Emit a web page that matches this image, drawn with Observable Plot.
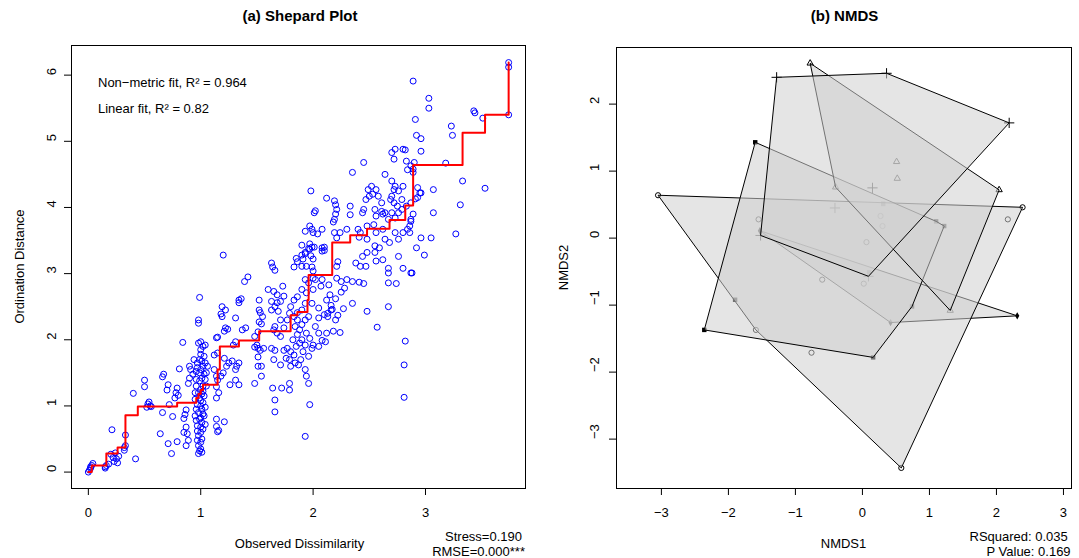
<!DOCTYPE html>
<html><head><meta charset="utf-8">
<script src="https://cdn.jsdelivr.net/npm/d3@7"></script>
<script src="https://cdn.jsdelivr.net/npm/@observablehq/plot@0.6"></script>
<style>
html,body{margin:0;padding:0;background:#fff;}
#wrap{position:relative;width:1079px;height:558px;overflow:hidden;background:#fff;}
#left,#right{position:absolute;top:0;}
#left{left:0;} #right{left:540px;}
svg{display:block;}
</style></head><body>
<div id="wrap"><div id="left"></div><div id="right"></div></div>
<script>
// ---------- Shepard plot data: [observed dissimilarity, ordination distance] ----------
const shepardPairs = [
[0.0,0.0],[0.01,0.03],[0.02,0.06],[0.03,0.1],[0.04,0.13],[0.02,0.08],
[0.15,0.06],[0.16,0.1],[0.18,0.12],[0.15,0.08],
[0.2,0.27],[0.22,0.22],[0.23,0.16],[0.25,0.2],[0.26,0.14],[0.24,0.29],[0.27,0.24],
[0.32,0.33],[0.33,0.4],[0.33,0.56],[0.32,0.37],[0.21,0.64],[0.42,0.2],
[0.4,1.19],[0.5,1.39],[0.5,1.29],[0.52,0.98],[0.53,1.03],[0.54,1.06],[0.55,1.0],[0.56,0.99],[0.64,0.58],[0.66,0.9],[0.66,1.44],[0.67,1.48],[0.7,1.24],[0.71,1.32],[0.74,0.28],[0.71,0.43],[0.75,0.84],[0.72,1.02],[0.77,1.12],[0.78,1.2],[0.8,1.16],[0.79,1.27],[0.81,1.56],[0.84,1.96],[0.87,0.4],[0.89,0.48],[0.88,0.58],[0.87,0.68],[0.85,0.6],[0.79,0.46],[0.85,0.81],[0.86,0.87],[0.87,0.94],[0.89,1.34],[0.9,1.42],[0.93,1.48],[0.91,1.55],[0.9,1.6],[0.94,1.7],
[0.95,1.1],[0.96,0.95],[0.95,0.85],[0.96,0.78],[0.97,0.7],[0.97,0.62],[0.98,0.55],[0.97,0.48],[0.98,0.4],[0.99,0.32],[0.98,0.28],[1.0,0.45],[1.01,0.5],[1.0,0.6],[1.0,0.68],[1.01,0.75],[1.0,0.82],[1.02,0.88],[1.01,0.95],[1.0,1.0],[1.02,1.05],[0.99,1.12],[1.01,1.18],[1.0,1.25],[1.02,1.3],[0.99,1.38],[1.01,1.42],[1.03,1.48],[1.0,1.55],[1.02,1.6],[1.04,1.65],[0.99,1.7],[1.03,1.75],[1.0,1.85],[1.02,1.9],[0.98,1.95],[1.04,1.92],[0.98,2.25],[0.98,2.3],[0.99,2.64],[1.04,1.4],[1.05,1.5],[1.03,1.15],[1.04,0.98],[1.03,0.85],[1.04,0.72],[1.02,0.65],[1.05,1.3],[0.97,1.02],[0.98,1.2],[0.96,1.3],[1.06,1.6],[0.97,1.58],[0.96,1.52],[0.97,1.65],[0.95,1.2],[0.96,1.4],[0.98,0.9],[1.0,0.35],[1.01,0.3],[0.99,0.8],[1.0,1.08],[1.02,1.22],[0.99,1.5],[1.01,1.68],[1.0,1.78],[1.0,1.97],
[1.12,1.77],[1.15,1.8],[1.14,2.03],[1.15,2.04],[1.18,2.39],[1.19,2.5],[1.22,2.45],[1.19,2.35],[1.21,2.13],[1.24,2.16],[1.22,2.18],[1.12,1.55],[1.14,1.45],[1.15,1.39],[1.18,1.45],[1.2,1.5],[1.14,1.29],[1.16,1.2],[1.14,1.12],[1.21,1.72],[1.25,1.65],[1.23,1.6],[1.28,1.68],[1.26,1.32],[1.31,1.39],[1.34,1.32],[1.31,1.55],[1.32,1.6],[1.34,1.65],[1.29,1.92],[1.31,1.97],[1.31,2.33],[1.34,2.6],[1.36,2.62],[1.39,2.88],[1.42,2.95],[1.34,2.56],[1.37,2.15],[1.4,2.18],[1.2,3.28],[1.21,0.76],[1.15,0.61],[1.14,0.69],[1.14,0.8],[1.16,0.63],[1.48,1.34],[1.54,1.45],[1.51,1.6],[1.54,1.6],
[1.52,2.6],[1.52,2.45],[1.53,2.41],[1.55,2.35],[1.52,2.27],[1.54,2.24],[1.51,2.12],[1.48,2.05],[1.5,1.92],[1.51,1.87],[1.48,1.89],[1.53,1.84],[1.56,1.87],[1.51,1.74],
[1.6,2.76],[1.65,2.73],[1.68,2.68],[1.63,2.58],[1.68,2.56],[1.71,2.58],[1.63,2.45],[1.66,2.5],[1.69,2.43],[1.74,2.66],[1.73,2.81],
[1.65,2.15],[1.66,2.2],[1.68,2.1],[1.71,2.05],[1.74,2.18],[1.77,2.3],[1.71,2.3],
[1.63,1.87],[1.66,1.84],[1.65,1.7],[1.71,1.62],[1.74,1.84],[1.77,1.87],[1.8,1.82],[1.76,1.72],[1.79,1.7],[1.83,1.77],
[1.86,2.41],[1.86,2.3],[1.9,2.23],[1.93,2.3],[1.96,2.35],[1.9,2.45],[1.93,2.55],
[1.9,2.76],[1.93,2.91],[1.96,2.86],[1.94,2.71],[2.0,2.76],[2.02,2.91],[2.07,2.81],[1.99,2.55],
[1.86,2.08],[1.9,2.0],[1.93,1.92],[1.91,1.82],[1.96,1.75],[1.99,1.87],[2.0,1.92],[1.97,2.02],[1.94,2.1],
[2.05,2.33],[2.1,2.38],[2.13,2.4],[2.17,2.46],[2.16,2.52],[2.05,2.48],
[2.0,2.93],[2.08,2.91],[2.14,2.83],[2.21,2.93],[2.25,2.88],[2.3,2.91],[2.35,2.88],[2.41,2.87],[2.45,2.85],
[1.8,1.6],[1.84,1.65],[1.87,1.62],[1.89,1.7],[1.85,1.9],[1.88,1.95],[1.82,2.0],[1.84,2.2],[1.88,2.15],[1.83,2.35],[1.8,2.5],[1.83,2.6],[1.86,2.65],[1.79,2.4],
[2.02,2.2],[2.05,2.1],[2.2,2.3],[2.22,2.37],[2.27,2.47],[2.12,2.6],[2.15,2.68],[2.2,2.62],[2.25,2.72],[2.28,2.78],[2.12,2.1],[2.05,1.9],
[2.82,1.98],[2.81,1.62],[2.81,1.13],[2.57,2.19],[2.67,2.5],[2.48,2.43],[2.35,2.55],[2.67,2.86],[2.74,2.85],[2.67,3.01],[2.24,2.11],[2.18,2.13],[2.11,1.97],[2.08,1.99],[2.13,2.35],[2.16,2.45],
[1.93,0.54],[1.97,1.02],[1.66,0.91],[1.66,1.09],[1.64,1.27],[1.72,1.27],[1.79,1.34],[1.79,1.24],[1.96,1.34],[1.94,1.45],[1.93,1.55],
[1.98,4.25],[2.12,4.14],[2.19,4.1],[2.2,4.04],[2.21,3.97],[2.2,3.9],[2.19,3.82],[2.18,3.78],[2.33,4.02],[2.33,3.89],[2.01,3.92],[2.02,3.95],[2.35,4.53],[2.45,4.68],[2.3,3.67],[2.4,3.67],[2.41,3.55],[2.42,3.62],[1.97,3.72],[1.99,3.67],[2.0,3.62],[1.93,3.64],[1.9,3.43],[1.93,3.32],[1.97,3.37],[1.98,3.27],[2.0,3.22],[1.91,3.22],[1.94,3.11],[1.9,3.11],[2.08,3.67],[2.08,3.39],[2.08,3.34],[2.19,3.62],[2.24,3.62],[2.21,3.54],[2.22,3.18],[2.21,3.11],
[2.49,4.27],[2.52,4.32],[2.5,4.17],[2.56,4.27],[2.58,4.17],[2.61,4.07],[2.53,4.2],[2.45,3.97],[2.44,3.92],[2.47,4.12],[2.55,3.97],[2.61,3.94],[2.62,3.9],
[2.64,4.5],[2.7,4.4],[2.72,4.27],[2.73,4.32],[2.76,4.25],[2.7,4.17],[2.69,4.12],[2.8,4.32],[2.79,4.12],[2.75,4.02],[2.72,4.07],
[2.7,4.83],[2.73,4.88],[2.8,4.88],[2.82,4.87],[2.72,4.73],[2.83,4.7],[2.84,4.57],[2.87,4.63],[2.89,4.53],
[2.48,3.72],[2.54,3.74],[2.56,3.87],[2.64,3.92],[2.67,3.82],[2.7,3.92],[2.73,3.84],[2.76,3.92],[2.79,3.97],
[2.48,3.52],[2.55,3.42],[2.56,3.62],[2.62,3.67],[2.64,3.52],[2.68,3.47],[2.73,3.62],[2.76,3.52],[2.8,3.62],[2.84,3.67],[2.86,3.72],[2.87,3.82],
[2.44,3.26],[2.48,3.32],[2.55,3.32],[2.59,3.39],[2.56,3.19],[2.62,3.21],[2.67,3.08],[2.76,3.26],[2.8,3.08],[2.87,3.01],[2.47,3.11],[2.42,3.11],[2.38,3.16],
[2.83,4.02],[2.87,4.07],[2.89,3.9],[2.87,3.79],[2.86,3.62],[2.93,4.3],[2.95,4.22],[2.96,4.22],
[2.89,5.91],[3.03,5.65],[3.03,5.5],[3.43,5.46],[3.44,5.43],[3.51,5.35],[2.91,5.33],[3.23,5.23],[3.24,5.09],[2.92,5.09],[2.96,5.04],[2.96,4.85],[2.9,4.68],[2.89,4.58],[3.18,4.67],[3.07,4.27],[3.33,4.4],[3.53,4.29],[3.07,3.92],[3.31,4.04],[3.05,3.54],[3.27,3.6],[2.99,3.28],[2.92,3.39],[2.96,3.54],[2.88,3.01],[3.74,6.19],[3.74,6.12],[3.74,5.4],[2.91,4.13],[2.93,4.15],
[1.63,3.16],[1.64,3.1],[1.66,3.05],[1.83,3.1],[1.86,3.18],[1.85,3.23],[1.9,3.28],[1.93,3.3],[1.96,3.38],[1.99,3.4],[1.97,3.45],[2.1,3.35],[2.1,3.4],[1.99,3.1],[2.0,3.04],[2.01,3.4],[2.04,3.6]
];
// monotone (non-metric) fit steps
const stepObserved   = [0, 0.03, 0.16, 0.26, 0.33, 0.44, 0.79, 0.96, 0.98, 1.0, 1.02, 1.15, 1.17, 1.34, 1.52, 1.80, 1.86, 1.95, 1.96, 2.17, 2.33, 2.48, 2.68, 2.82, 2.89, 3.33, 3.53, 3.74];
const stepOrdination = [0, 0.10, 0.28, 0.37, 0.86, 0.99, 1.05, 1.12, 1.18, 1.24, 1.32, 1.55, 1.90, 1.99, 2.13, 2.37, 2.42, 2.60, 2.98, 3.47, 3.58, 3.68, 3.81, 4.03, 4.64, 5.13, 5.40, 6.19];
const shepardXTicks = [0, 1, 2, 3];
const shepardYTicks = [0, 1, 2, 3, 4, 5, 6];

// ---------- NMDS data (drawing order of hulls = order of groups) ----------
const nmdsGroup = ["diamond","diamond","diamond",
  "circle","circle","circle","circle","circle","circle","circle","circle","circle","circle","circle","circle",
  "square","square","square","square","square","square","square","square","square",
  "triangle","triangle","triangle","triangle","triangle","triangle",
  "plus","plus","plus","plus","plus","plus","plus"];
const nmdsX = [-1.53, 0.42, 2.31,
  -3.05, 2.39, 0.58, -1.59, 2.17, -1.55, 0.27, 0.30, 0.06, -0.60, 0.02, -0.76,
  -1.60, -2.36, 0.16, 0.74, 1.22, 1.10, 0.31, -1.90, 0.10,
  -0.78, 2.04, 1.31, -0.40, 0.51, 0.52,
  -1.28, 0.36, 2.19, 0.09, -1.52, 0.15, -0.41];
const nmdsY = [0.11, -1.26, -1.16,
  0.64, 0.46, -3.43, -1.37, 0.28, 0.28, 0.33, 0.18, -0.06, -0.62, -0.68, -1.71,
  1.43, -1.37, -1.78, -1.02, 0.18, 0.25, 0.51, -0.92, -0.51,
  2.61, 0.72, -1.08, 0.76, 1.14, 0.89,
  2.40, 2.46, 1.72, -0.57, 0.04, 0.75, 0.45];
const nmdsXTicks = [-3, -2, -1, 0, 1, 2, 3];
const nmdsYTicks = [-3, -2, -1, 0, 1, 2];
const openGroups = [["circle","circle",2.6],["triangle","triangle2",3.0],["plus","plus",3.4]];
const filledGroups = [["square","square",2.5],["diamond","diamond",2.2]];

const font = '"Liberation Sans", Arial, Helvetica, sans-serif';
const fmt = d => d < 0 ? "\u2212" + Math.abs(d) : String(d);

function addText(svg, x, y, str, o = {}) {
  const t = d3.select(svg).append("text")
    .attr("x", 0).attr("y", 0)
    .attr("transform", `translate(${x},${y})` + (o.rotate ? ` rotate(${o.rotate})` : ""))
    .attr("text-anchor", o.anchor || "middle")
    .attr("font-family", font)
    .attr("font-size", (o.size || 13) + "px")
    .attr("font-weight", o.bold ? "bold" : "normal")
    .attr("fill", "black")
    .text(str);
  return t;
}

// ---------- Left: Shepard plot ----------
const left = Plot.plot({
  width: 540, height: 558,
  marginLeft: 71, marginRight: 15, marginTop: 45, marginBottom: 70,
  x: {domain: [-0.15, 3.89]},
  y: {domain: [-0.248, 6.448]},
  style: {fontFamily: font, fontSize: "13px", color: "black", background: "white"},
  marks: [
    Plot.axisX(shepardXTicks, {tickSize: 7, tickPadding: 12, label: null, tickFormat: fmt}),
    Plot.axisY(shepardYTicks, {tickSize: 7, label: null, tickFormat: () => ""}),
    Plot.text(shepardYTicks, {y: d => d, text: fmt, frameAnchor: "left", dx: -20, rotate: -90, fontSize: 13}),
    Plot.dot(shepardPairs, {x: d => d[0], y: d => d[1], r: 3, stroke: "#0000ff", strokeWidth: 1, fill: "none"}),
    Plot.line(stepObserved.map((x, i) => [x, stepOrdination[i]]), {x: d => d[0], y: d => d[1], curve: "step-after", stroke: "#ff0000", strokeWidth: 2}),
    Plot.frame({stroke: "black"})
  ]
});
document.getElementById("left").appendChild(left);
addText(left, 300, 21, "(a) Shepard Plot", {size: 15, bold: true});
addText(left, 98, 87, "Non\u2212metric fit, R\u00B2 = 0.964", {anchor: "start"});
addText(left, 98, 113, "Linear fit, R\u00B2 = 0.82", {anchor: "start"});
addText(left, 299.5, 548, "Observed Dissimilarity");
addText(left, 24, 266.5, "Ordination Distance", {rotate: -90});
addText(left, 522, 540.5, "Stress=0.190", {anchor: "end"});
addText(left, 525, 555.5, "RMSE=0.000***", {anchor: "end"});

// ---------- Right: NMDS ----------
const nIdx = d3.range(nmdsX.length);
const right = Plot.plot({
  width: 539, height: 558,
  marginLeft: 76, marginRight: 8, marginTop: 47, marginBottom: 70,
  x: {domain: [-3.67, 3.12]},
  y: {domain: [-3.737, 2.845]},
  style: {fontFamily: font, fontSize: "13px", color: "black", background: "white"},
  marks: [
    Plot.axisX(nmdsXTicks, {tickSize: 7, tickPadding: 12, label: null, tickFormat: fmt}),
    Plot.axisY(nmdsYTicks, {tickSize: 7, label: null, tickFormat: () => ""}),
    Plot.text(nmdsYTicks, {y: d => d, text: fmt, frameAnchor: "left", dx: -22, rotate: -90, fontSize: 13}),
    ...openGroups.map(([g, sym, r]) => Plot.dot(nIdx.filter(i => nmdsGroup[i] === g),
      {x: i => nmdsX[i], y: i => nmdsY[i], symbol: sym, r, stroke: "black", strokeWidth: 1, fill: "none"})),
    ...filledGroups.map(([g, sym, r]) => Plot.dot(nIdx.filter(i => nmdsGroup[i] === g),
      {x: i => nmdsX[i], y: i => nmdsY[i], symbol: sym, r, fill: "black", stroke: "none"})),
    Plot.hull(nIdx, {x: i => nmdsX[i], y: i => nmdsY[i], z: i => nmdsGroup[i],
      fill: "#d0d0d0", fillOpacity: 0.55, stroke: "black", strokeWidth: 1}),
    Plot.frame({stroke: "black"})
  ]
});
document.getElementById("right").appendChild(right);
addText(right, 304.5, 21, "(b) NMDS", {size: 15, bold: true});
addText(right, 303.5, 548, "NMDS1");
addText(right, 28, 267.5, "NMDS2", {rotate: -90});
addText(right, 527.8, 540.5, "RSquared: 0.035", {anchor: "end"});
addText(right, 530.6, 555.5, "P Value: 0.169", {anchor: "end"});
</script>
</body></html>
